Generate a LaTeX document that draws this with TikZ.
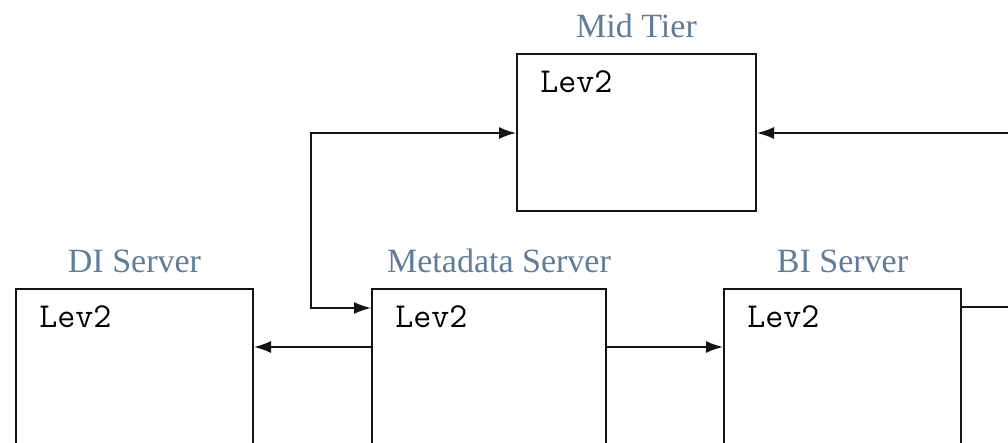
\documentclass[tikz,border=0pt]{standalone}
\usepackage{fontspec}
\setmainfont{Liberation Serif}
\usetikzlibrary{arrows.meta,positioning,calc}
\definecolor{TierBlue}{RGB}{96,124,155}
\definecolor{LineBlack}{RGB}{20,20,20}

\tikzset{
  tierbox/.style={draw=LineBlack,line width=1pt,anchor=north west,
    minimum width=118.5pt,minimum height=85pt,inner sep=0pt},
  tiertitle/.style={text=TierBlue,font=\fontsize{17}{20}\selectfont,inner sep=0pt},
  levtext/.style={font=\ttfamily\fontsize{17.5}{20}\selectfont,inner sep=0pt},
  link/.style={draw=LineBlack,line width=0.8pt}
}

\begin{document}
\begin{tikzpicture}[x=0.5pt,y=-0.5pt,>={Latex[length=8.5pt,width=6pt]}]
      \useasboundingbox (0,0) rectangle (1008,443);
      \clip (0,0) rectangle (1008,443);
      % boxes
      \node[tierbox,minimum width=119.5pt,minimum height=78.5pt] (mid) at (516,53) {};
      \node[tierbox] (di) at (15,288) {};
      \node[tierbox,minimum width=117pt] (meta) at (371,288) {};
      \node[tierbox] (bi) at (723,288) {};
      % titles
      \node[tiertitle,above=7.5pt of mid] (midT) {Mid Tier};
      \node[tiertitle,above=7.5pt of di] (diT) {DI Server};
      \node[tiertitle,above=7.5pt of meta,xshift=5pt] (metaT) {Metadata Server};
      \node[tiertitle,above=7.5pt of bi] (biT) {BI Server};
      % contents
      \foreach \b in {mid,di,meta,bi}
        \node[levtext,below right=8.5pt and 12pt of \b.north west] (\b lev) {Lev2};
      % connectors
      \coordinate (midL) at ([yshift=-40pt]mid.north west);
      \coordinate (metaU) at ([yshift=-10pt]meta.north west);
      \coordinate (metaM) at ([yshift=-29.5pt]meta.north west);
      \coordinate (biR) at ([yshift=-9.5pt]bi.north east);
      \coordinate (loopX) at (311,0);
      \coordinate (rimX) at (1030,0);
      \draw[link,<->] (midL) -- (loopX |- midL) -- (loopX |- metaU) -- (metaU);
      \draw[link,->] (metaM) -- (metaM -| di.east);
      \draw[link,->] (metaM -| meta.east) -- (metaM -| bi.west);
      \draw[link,->] (biR) -- (rimX |- biR) -- (rimX |- midL) -- (midL -| mid.east);
    \end{tikzpicture}
\end{document}
